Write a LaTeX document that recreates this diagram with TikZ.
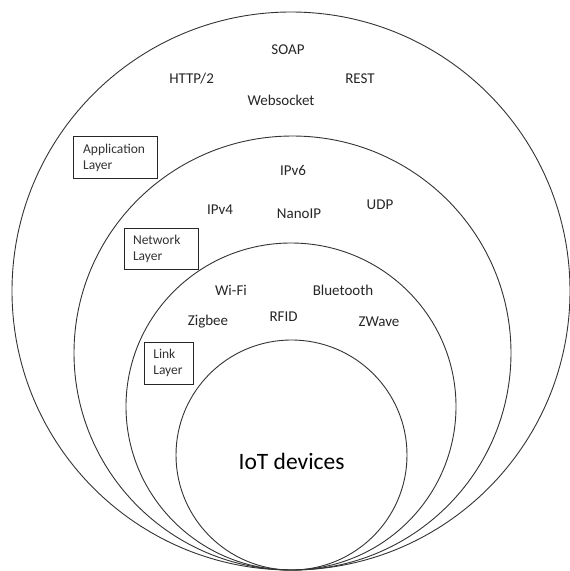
\documentclass[tikz,border=0pt]{standalone}
\usepackage{fontspec}
\setmainfont{Carlito}
\begin{document}
\begin{tikzpicture}[x=1pt,y=-1pt,
  ring/.style={draw=black!80, line width=0.9pt},
  lbl/.style={inner sep=0pt, font=\fontsize{15}{18}\selectfont, text=black!85},
  layerbox/.style={draw=black!85, line width=0.9pt, anchor=north west, align=left,
    font=\fontsize{13.5}{16}\selectfont, text=black!80, inner ysep=0pt},
  big/.style={inner sep=0pt, font=\fontsize{23.5}{28}\selectfont, text=black}]
\fill[white] (0,0) rectangle (570,571);
\useasboundingbox (0,0) rectangle (570,571);
% rings
\draw[ring] (291,291) ellipse [x radius=279, y radius=279];
\draw[ring] (292.5,353) ellipse [x radius=218.5, y radius=217];
\draw[ring] (291,406.5) ellipse [x radius=165, y radius=163.5];
\draw[ring] (291.5,455) ellipse [x radius=115.5, y radius=115];
% application layer
\node[lbl] (soap) at (288,50) {SOAP};
\node[lbl] (http) at (191.6,79) {HTTP/2};
\node[lbl] (rest) at (360,79) {REST};
\node[lbl] (ws) at (281,100.7) {Websocket};
\node[layerbox, minimum width=84, minimum height=42, text width=64, inner xsep=10] (app) at (72.7,136) {Application\\Layer};
% network layer
\node[lbl] (ipv6) at (293,170) {IPv6};
\node[lbl] (ipv4) at (220,210) {IPv4};
\node[lbl] (nano) at (299,214) {NanoIP};
\node[lbl] (udp) at (380,205) {UDP};
\node[layerbox, minimum width=74, minimum height=41.5, text width=56, inner xsep=9] (net) at (123.6,227.6) {Network\\Layer};
% link layer
\node[lbl] (wifi) at (231,290) {Wi-Fi};
\node[lbl] (bt) at (343,290) {Bluetooth};
\node[lbl] (zig) at (208,322) {Zigbee};
\node[lbl] (rfid) at (283.6,317) {RFID};
\node[lbl] (zw) at (379,322) {ZWave};
\node[layerbox, minimum width=49, minimum height=41.5, text width=32, inner xsep=8.5] (link) at (144.4,342) {Link\\Layer};
% devices
\node[big] (iot) at (291.6,461) {IoT devices};
\end{tikzpicture}
\end{document}
